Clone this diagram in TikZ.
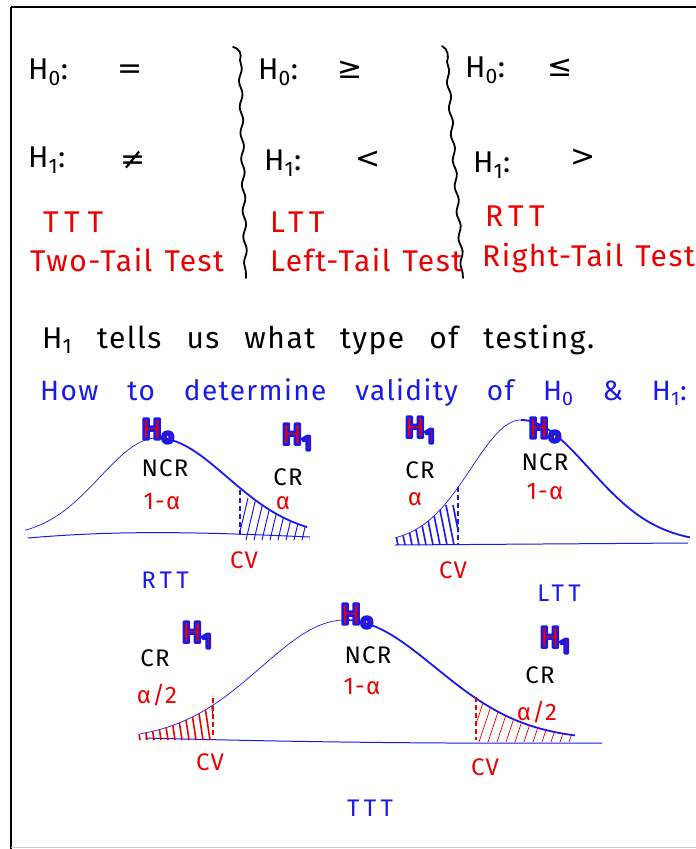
\documentclass[tikz,border=0pt]{standalone}
\usepackage{fontspec}
\setmainfont{Fira Sans}[LetterSpace=5]
\newfontfamily\symf{DejaVu Sans}
\usetikzlibrary{decorations.pathmorphing}
\definecolor{hb}{RGB}{25,25,235}
\definecolor{hr}{RGB}{235,0,0}
\newcommand\hsub[1]{H\textsubscript{#1}}
\newcommand\hlab[1]{\special{pdf:literal direct 2 Tr 2.6 w 1 j 0.1 0.1 0.92 RG}\bfseries H\textsubscript{#1}\special{pdf:literal direct 0 Tr}}
\newcommand\setsp[1]{\spaceskip=#1\relax}
\newcommand\wide{\addfontfeatures{LetterSpace=18}}
\begin{document}
\begin{tikzpicture}[x=1pt,y=-1pt,
  big/.style={inner sep=0pt, font=\fontsize{30}{34}\selectfont},
  sym/.style={inner sep=0pt, font=\symf\fontsize{30}{34}\selectfont},
  redbig/.style={inner sep=0pt, text=hr, font={\fontsize{30}{34}\selectfont\setsp{12pt}}},
  lab/.style={inner sep=0pt, font=\fontsize{24}{28}\selectfont},
  hl/.style={inner sep=0pt, text=hr, font=\fontsize{30}{32}\selectfont},
  thincurve/.style={draw=hb, line width=0.7pt},
  thickcurve/.style={draw=hb, line width=1.8pt},
  baseln/.style={draw=hb, line width=1pt},
  brc/.style={line width=1.8pt, line cap=round},
  cvline/.style={line width=1.4pt, dash pattern=on 5pt off 3pt},
  hatchthick/.style={line width=1.6pt},
  hatchthin/.style={line width=0.7pt}]
\useasboundingbox (0,0) rectangle (696,849);
% frame
\draw[line width=2.5pt] (11,7) -- (696,7);
\draw[line width=2.5pt] (11,7) -- (11,849);
\draw[black!20, line width=1pt] (11,847.5) -- (696,847.5);

% braces
\draw[brc] (233,47) .. controls (240,49) and (242,54) .. (240,60);
\draw[brc, decorate, decoration={snake, amplitude=1.6pt, segment length=26pt}] (240,60) -- (246,278);
\draw[brc] (442,46) .. controls (448,49) and (449,56) .. (447,62);
\draw[brc, decorate, decoration={snake, amplitude=1.6pt, segment length=26pt}] (447,62) -- (463,278);

% column 1
\node[big, anchor=west] (h0a) at (28,72) {\hsub{0}:};
\node[sym] (eqa) at (130,72) {=};
\node[big, anchor=west] (h1a) at (28,160) {\hsub{1}:};
\node[sym] (nea) at (133,160) {≠};
\node[redbig, anchor=west] (ttt) at (43,222) {\wide TT\hspace{8pt}T};
\node[redbig, anchor=west] (twot) at (30,260) {Two-Tail Test};
% column 2
\node[big, anchor=west] (h0b) at (258,72) {\hsub{0}:};
\node[sym] (gea) at (350,70) {≥};
\node[big, anchor=west] (h1b) at (264,163) {\hsub{1}:};
\node[sym] (lta) at (368,160) {<};
\node[redbig, anchor=west] (ltt) at (270,222) {\wide LTT};
\node[redbig, anchor=west] (leftt) at (270,260) {Left-Tail Test};
% column 3
\node[big, anchor=west] (h0c) at (465,70) {\hsub{0}:};
\node[sym] (lea) at (560,68) {≤};
\node[big, anchor=west] (h1c) at (473,165) {\hsub{1}:};
\node[sym] (gta) at (583,158) {>};
\node[redbig, anchor=west] (rtt) at (485,216) {\wide RTT};
\node[redbig, anchor=west] (rightt) at (482,258) {Right-Tail Test};

% sentences
\node[big, anchor=west, font={\fontsize{30}{34}\selectfont\setsp{25pt}}] (tells) at (42,340) {\hsub{1} tells us what type of testing.};
\node[big, anchor=west, text=hb, font={\fontsize{28}{32}\selectfont\setsp{29pt}}] (how) at (40,393) {How to determine validity of \hsub{0} \& \hsub{1}:};

% ---------- curve 1 (RTT)
\draw[thincurve] plot[domain=25:157, samples=50, smooth] (\x,{537-99*exp(-0.5*((\x-157)/57)^2)});
\draw[thickcurve] plot[domain=157:307, samples=50, smooth] (\x,{537-99*exp(-0.5*((\x-157)/70)^2)});
\draw[baseln] (28,538) .. controls (120,530) and (200,532) .. (310,537);
\begin{scope}
\clip (240,540) -- plot[domain=240:307, samples=30] (\x,{537-99*exp(-0.5*((\x-157)/70)^2)}) -- (310,540) -- cycle;
\foreach \i in {0,...,9} \draw[hb, line width=1pt] ({238+\i*8},540) -- ({248+\i*8},498);
\end{scope}
\draw[hb, cvline] (240,490) -- (240,537);
\node[hl] (h0r) at (158,431) {\hlab{o}};
\node[hl] (h1r) at (297,437) {\hlab{1}};
\node[lab] (ncr1) at (165,468) {NCR};
\node[lab] (cr1) at (288,477) {CR};
\node[lab, text=hr] (oma1) at (162,502) {1-α};
\node[lab, text=hr] (al1) at (283,503) {α};
\node[lab, text=hr] (cv1) at (244,560) {CV};
\node[lab, text=hb] (rttl) at (165,580) {\wide RTT};

% ---------- curve 2 (LTT)
\draw[thincurve] plot[domain=395:521, samples=50, smooth] (\x,{543-123*exp(-0.5*((\x-521)/50)^2)});
\draw[thickcurve] plot[domain=521:690, samples=50, smooth] (\x,{543-123*exp(-0.5*((\x-521)/68)^2)});
\draw[baseln] (395,545) -- (688,543);
\begin{scope}
\clip (392,545) -- plot[domain=392:458, samples=30] (\x,{543-123*exp(-0.5*((\x-521)/50)^2)}) -- (458,545) -- cycle;
\foreach \i in {0,...,9} \draw[hb, hatchthick] ({390+\i*7},505) -- ({398+\i*7},545);
\end{scope}
\draw[hb, cvline] (458,487) -- (458,545);
\node[hl] (h1l) at (420,430) {\hlab{1}};
\node[hl] (h0l) at (545,430) {\hlab{o}};
\node[lab] (cr2) at (420,470) {CR};
\node[lab] (ncr2) at (545,462) {NCR};
\node[lab, text=hr] (al2) at (415,499) {α};
\node[lab, text=hr] (oma2) at (545,492) {1-α};
\node[lab, text=hr] (cv2) at (453,570) {CV};
\node[lab, text=hb] (lttl) at (559,593) {\wide LTT};

% ---------- curve 3 (TTT)
\draw[thincurve] plot[domain=140:345, samples=60, smooth] (\x,{740-120*exp(-0.5*((\x-345)/84)^2)});
\draw[thickcurve] plot[domain=345:575, samples=60, smooth] (\x,{740-120*exp(-0.5*((\x-345)/90)^2)});
\draw[baseln] (145,738) .. controls (260,741) and (400,744) .. (602,743);
\begin{scope}
\clip (137,742) -- plot[domain=137:213, samples=30] (\x,{740-120*exp(-0.5*((\x-345)/84)^2)}) -- (213,742) -- cycle;
\foreach \i in {0,...,11} \draw[hr, hatchthick] ({134+\i*7},700) -- ({140+\i*7},740);
\end{scope}
\begin{scope}
\clip (476,742) -- plot[domain=476:580, samples=30] (\x,{740-120*exp(-0.5*((\x-345)/90)^2)}) -- (580,742) -- cycle;
\foreach \i in {0,...,11} \draw[hr, hatchthin] ({470+\i*9},742) -- ({484+\i*9},700);
\end{scope}
\draw[hr, cvline] (213,698) -- (213,738);
\draw[hr, cvline] (476,697) -- (476,740);
\node[lab] (cr3) at (155,658) {CR};
\node[hl] (h1t) at (197,635) {\hlab{1}};
\node[lab, text=hr] (ah3) at (157,695) {α/2};
\node[hl] (h0t) at (357,616) {\hlab{o}};
\node[lab] (ncr3) at (368,655) {NCR};
\node[lab, text=hr] (oma3) at (362,687) {1-α};
\node[hl] (h1u) at (555,640) {\hlab{1}};
\node[lab] (cr4) at (540,675) {CR};
\node[lab, text=hr] (ah4) at (537,712) {α/2};
\node[lab, text=hr] (cv3) at (210,762) {CV};
\node[lab, text=hr] (cv4) at (485,767) {CV};
\node[lab, text=hb] (tttl) at (370,808) {\wide TTT};
\end{tikzpicture}
\end{document}
